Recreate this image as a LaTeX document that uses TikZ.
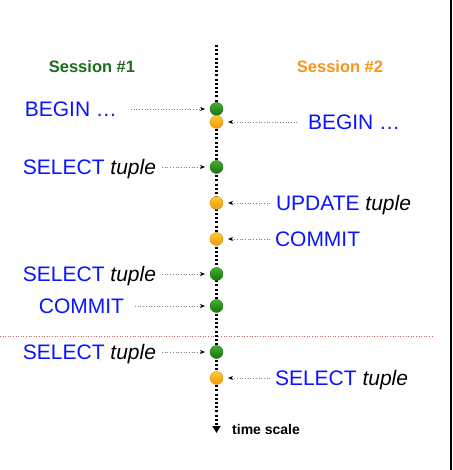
\documentclass[tikz,border=0pt]{standalone}
\usepackage{fontspec}
\setmainfont{Liberation Sans}
\usetikzlibrary{arrows.meta}
\definecolor{sgreen}{HTML}{1E6B1E}
\definecolor{sorange}{HTML}{F7941D}
\definecolor{gtop}{HTML}{45B030}
\definecolor{gbot}{HTML}{1A7012}
\definecolor{otop}{HTML}{FFC830}
\definecolor{obot}{HTML}{F09A0C}
\definecolor{lblue}{HTML}{0A14FF}
\definecolor{redline}{HTML}{C86464}
\tikzset{
  lab/.style={inner sep=0pt, outer sep=0pt, text height=15pt, text depth=0pt, font=\fontsize{21}{24}\selectfont, text=lblue},
  head/.style={inner sep=0pt, font=\fontsize{16.5}{19}\selectfont\bfseries},
  gdot/.style={circle, inner sep=0pt, outer sep=0pt, minimum size=13pt, top color=gtop, bottom color=gbot, draw=gbot, line width=0.4pt},
  odot/.style={circle, inner sep=0pt, outer sep=0pt, minimum size=13pt, top color=otop, bottom color=obot, draw=obot!90!black, line width=0.4pt},
  conn/.style={draw=gray, dotted, line width=0.7pt, -{Stealth[black,length=5pt,width=4pt]}, shorten >=5pt},
  timeline/.style={draw=black, line width=2.2pt, dash pattern=on 2pt off 2.2pt, -{Triangle[length=7pt,width=8pt]}},
}
\begin{document}
\begin{tikzpicture}[x=1pt,y=-1pt]
\useasboundingbox (0,0) rectangle (452,470);
\fill[black] (450,0) rectangle (452,470);
\draw[redline, dotted, line width=0.6pt] (0,336) -- (434,336);
\coordinate (ttop) at (216.5,45);
\coordinate (tbot) at (216.5,433);
\draw[timeline] (ttop) -- (tbot);
\node[head, text=sgreen] (s1) at (92,67) {Session \#1};
\node[head, text=sorange] (s2) at (340,67) {Session \#2};
\node[inner sep=0pt, anchor=west, font=\fontsize{14}{16}\selectfont\bfseries] (ts) at (232,429) {time scale};
% dots
\node[gdot] (g1) at (216.5,109) {};
\node[odot] (o1) at (216.5,122) {};
\node[gdot] (g2) at (216.5,167) {};
\node[odot] (o2) at (216.5,203) {};
\node[odot] (o3) at (216.5,239) {};
\node[gdot] (g3) at (216.5,274) {};
\node[gdot] (g4) at (216.5,306) {};
\node[gdot] (g5) at (216.5,352) {};
\node[odot] (o4) at (216.5,378) {};
% labels
\node[lab, anchor=east] (l1) at (117,109) {BEGIN …};
\node[lab, anchor=west] (r1) at (308,122) {BEGIN …};
\node[lab, anchor=east] (l2) at (156,167) {SELECT \textcolor{black}{\itshape tuple}};
\node[lab, anchor=west] (r2) at (276,203) {UPDATE \textcolor{black}{\itshape tuple}};
\node[lab, anchor=west] (r3) at (275,239) {COMMIT};
\node[lab, anchor=east] (l3) at (156,274) {SELECT \textcolor{black}{\itshape tuple}};
\node[lab, anchor=east] (l4) at (124,306) {COMMIT};
\node[lab, anchor=east] (l5) at (156,352) {SELECT \textcolor{black}{\itshape tuple}};
\node[lab, anchor=west] (r4) at (275,378) {SELECT \textcolor{black}{\itshape tuple}};
% connectors
\draw[conn, shorten <=14pt] (l1.east) -- (g1);
\draw[conn, shorten <=11pt] (r1.west) -- (o1);
\draw[conn, shorten <=6pt] (l2.east) -- (g2);
\draw[conn, shorten <=6pt] (r2.west) -- (o2);
\draw[conn, shorten <=5pt] (r3.west) -- (o3);
\draw[conn, shorten <=6pt] (l3.east) -- (g3);
\draw[conn, shorten <=11pt] (l4.east) -- (g4);
\draw[conn, shorten <=6pt] (l5.east) -- (g5);
\draw[conn, shorten <=5pt] (r4.west) -- (o4);
\end{tikzpicture}
\end{document}
